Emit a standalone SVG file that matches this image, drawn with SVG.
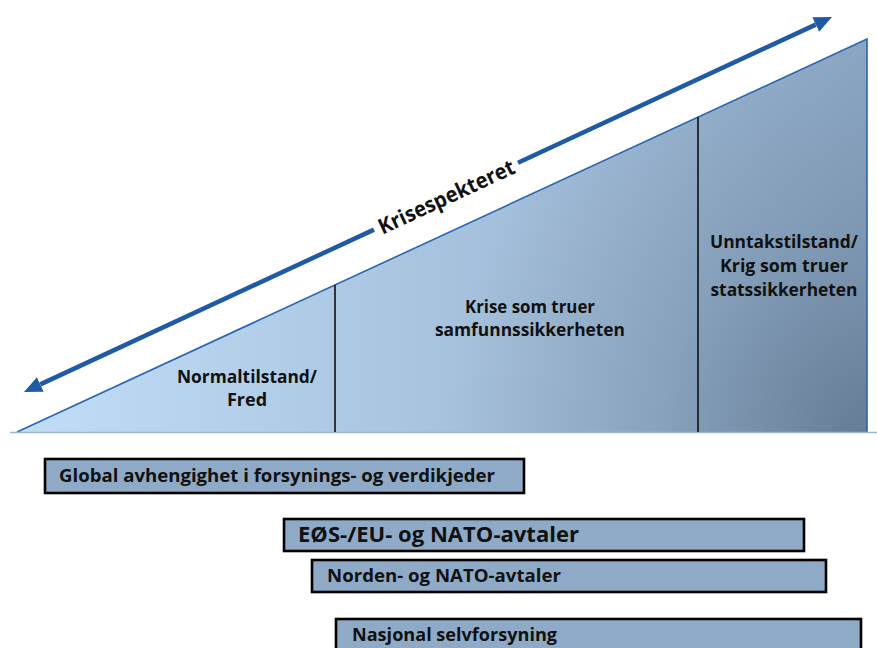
<svg xmlns="http://www.w3.org/2000/svg" width="877" height="648" viewBox="0 0 877 648">
  <style>
    .lbl { font-family: "Open Sans", "Liberation Sans", sans-serif; font-weight: 700; fill: #111; }
    .zone { font-size: 18px; text-anchor: middle; }
    .bar { fill: #8eaac6; stroke: #000; stroke-width: 2.6; }
    .barText { font-size: 18px; }
    .divider { stroke: #111; stroke-width: 1.6; }
    .spectrum { stroke: #1e5aa6; stroke-width: 4.5; fill: none; }
  </style>
  <defs>
    <linearGradient id="rampFill" gradientUnits="userSpaceOnUse" x1="17" y1="0" x2="867" y2="0">
      <stop offset="0" stop-color="#c2ddf7"/>
      <stop offset="1" stop-color="#8ca8c5"/>
    </linearGradient>
    <radialGradient id="rampShade" gradientUnits="userSpaceOnUse" cx="867" cy="432" r="420">
      <stop offset="0" stop-color="#4e6076" stop-opacity="0.6"/>
      <stop offset="0.5" stop-color="#4e6076" stop-opacity="0.22"/>
      <stop offset="1" stop-color="#4e6076" stop-opacity="0"/>
    </radialGradient>
    <marker id="head" viewBox="0 0 18 16" refX="0" refY="8" markerWidth="18" markerHeight="16" markerUnits="userSpaceOnUse" orient="auto-start-reverse">
      <path d="M0,0 L18,8 L0,16 z" fill="#1e5aa6"/>
    </marker>
  </defs>

  <!-- crisis ramp -->
  <g id="ramp">
    <polygon points="17,432 867,39 867,432" fill="url(#rampFill)"/>
    <polygon points="17,432 867,39 867,432" fill="url(#rampShade)"/>
    <polyline points="17,432 867,39 867,432" fill="none" stroke="#2a66b0" stroke-width="1.6"/>
    <line x1="10" y1="432.5" x2="877" y2="432.5" stroke="#9fb5cf" stroke-width="1.6"/>
    <line class="divider" x1="335" y1="285" x2="335" y2="432"/>
    <line class="divider" x1="698" y1="117" x2="698" y2="432"/>
  </g>

  <g id="zone-normal">
    <text class="lbl zone" x="247" y="383" textLength="140" lengthAdjust="spacingAndGlyphs">Normaltilstand/</text>
    <text class="lbl zone" x="247" y="406">Fred</text>
  </g>
  <g id="zone-krise">
    <text class="lbl zone" x="530" y="313" textLength="130" lengthAdjust="spacingAndGlyphs">Krise som truer</text>
    <text class="lbl zone" x="530" y="336" textLength="190" lengthAdjust="spacingAndGlyphs">samfunnssikkerheten</text>
  </g>
  <g id="zone-krig">
    <text class="lbl zone" x="784" y="248" textLength="148" lengthAdjust="spacingAndGlyphs">Unntakstilstand/</text>
    <text class="lbl zone" x="784" y="272" textLength="128" lengthAdjust="spacingAndGlyphs">Krig som truer</text>
    <text class="lbl zone" x="784" y="296" textLength="147" lengthAdjust="spacingAndGlyphs">statssikkerheten</text>
  </g>

  <!-- spectrum arrow -->
  <g id="connectors">
    <line class="spectrum" x1="40.3" y1="384.4" x2="374" y2="229.6" marker-start="url(#head)"/>
    <line class="spectrum" x1="518" y1="162.7" x2="815.7" y2="24.6" marker-end="url(#head)"/>
    <text class="lbl" x="446" y="196" font-size="21.5" text-anchor="middle" dominant-baseline="central" transform="rotate(-24.9 446 196)" textLength="148" lengthAdjust="spacingAndGlyphs">Krisespekteret</text>
  </g>

  <!-- agreement bars -->
  <g id="bar-global">
    <rect class="bar" x="45" y="459" width="479" height="34"/>
    <text class="lbl barText" x="59" y="482" textLength="436" lengthAdjust="spacingAndGlyphs">Global avhengighet i forsynings- og verdikjeder</text>
  </g>
  <g id="bar-eos">
    <rect class="bar" x="284" y="519" width="520" height="32"/>
    <text class="lbl" x="298" y="542" font-size="21" textLength="281" lengthAdjust="spacingAndGlyphs">EØS-/EU- og NATO-avtaler</text>
  </g>
  <g id="bar-norden">
    <rect class="bar" x="312" y="560" width="514" height="32"/>
    <text class="lbl barText" x="327" y="582" textLength="234" lengthAdjust="spacingAndGlyphs">Norden- og NATO-avtaler</text>
  </g>
  <g id="bar-nasjonal">
    <rect class="bar" x="336" y="619" width="525" height="40"/>
    <text class="lbl barText" x="352" y="641" textLength="205" lengthAdjust="spacingAndGlyphs">Nasjonal selvforsyning</text>
  </g>
</svg>
